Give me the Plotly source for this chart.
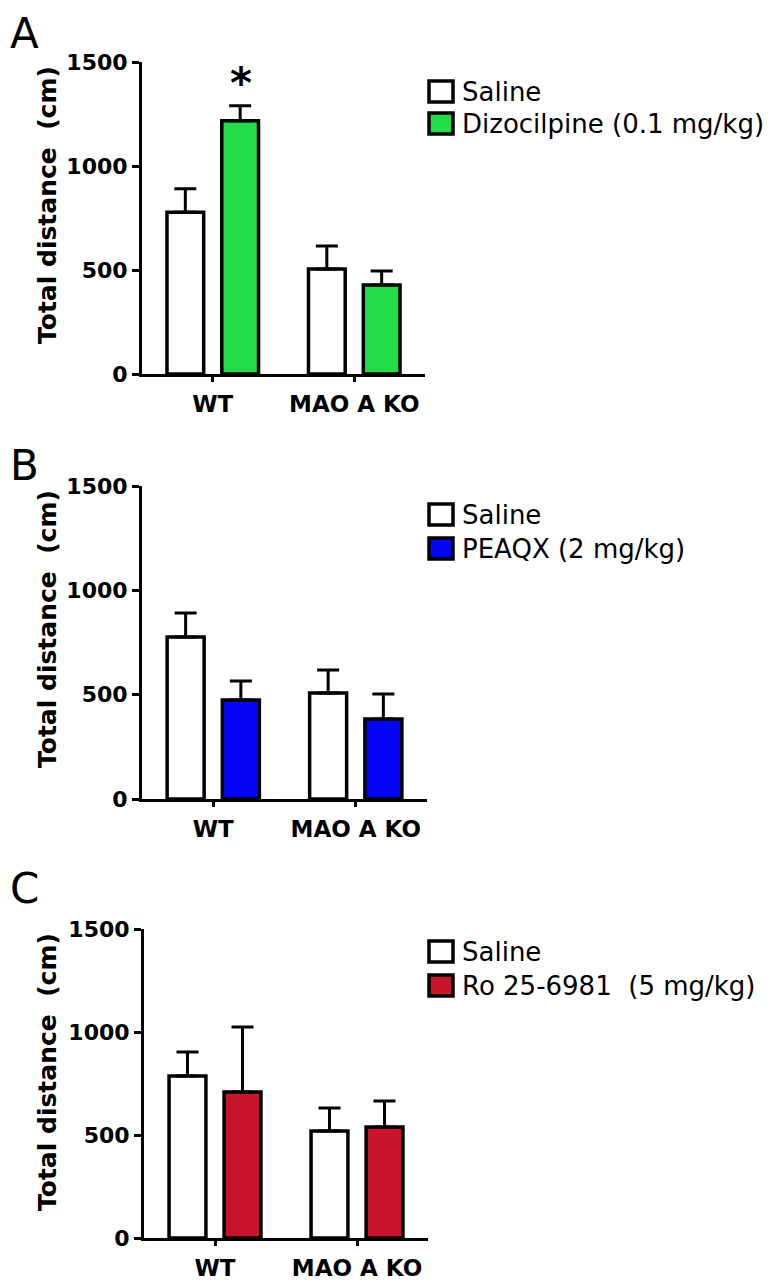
import plotly.graph_objects as go

W, H = 782, 1280
OFF = 8  # page body margin: figure is drawn 8px in from the window corner

categories = ["WT", "MAO A KO"]
y_ticks = [0, 500, 1000, 1500]
panel_letters = ["A", "B", "C"]
axis_title = "Total distance\u00a0 (cm)"

saline_label = "Saline"
drug_labels = ["Dizocilpine (0.1 mg/kg)", "PEAQX (2 mg/kg)", "Ro 25-6981\u00a0 (5 mg/kg)"]
drug_colors = ["#22DC4A", "#0505F5", "#C8142C"]

saline_means = [[778, 505], [776, 508], [786, 519]]
saline_errs = [[113, 110], [115, 110], [117, 112]]
drug_means = [[1218, 428], [474, 383], [709, 539]]
drug_errs = [[72, 67], [91, 120], [315, 126]]

# significance marker: (panel, category, series)
star_marks = [(0, "WT", "drug")]

# layout geometry in window pixels
x_dom_px = [(142, 425), (142, 427), (144, 428)]
y_dom_px = [(62, 374), (486, 799), (929, 1238)]
letter_y_px = [34, 465, 888]
title_y_px = [205, 629, 1072]
legend_rows_px = [(91, 123), (514, 548), (951, 985)]

BOLD = "DejaVu Sans"


def px(x):
    return (x - OFF) / W


def py(y):
    return 1 - (y - OFF) / H


fig = go.Figure()

for i in range(3):
    sfx = "" if i == 0 else str(i + 1)
    xa, ya = "x" + sfx, "y" + sfx
    fig.add_trace(go.Bar(
        x=categories, y=saline_means[i], xaxis=xa, yaxis=ya,
        marker=dict(color="white", line=dict(color="black", width=3.5)),
        error_y=dict(type="data", array=saline_errs[i], arrayminus=[0, 0], symmetric=False,
                     color="black", thickness=3, width=11),
        showlegend=False, name=saline_label,
    ))
    fig.add_trace(go.Bar(
        x=categories, y=drug_means[i], xaxis=xa, yaxis=ya,
        marker=dict(color=drug_colors[i], line=dict(color="black", width=3.5)),
        error_y=dict(type="data", array=drug_errs[i], arrayminus=[0, 0], symmetric=False,
                     color="black", thickness=3, width=11),
        showlegend=False, name=drug_labels[i],
    ))

    x0, x1 = x_dom_px[i]
    yt, yb = y_dom_px[i]
    fig.update_layout(**{
        "xaxis" + sfx: dict(
            domain=[px(x0), px(x1)], anchor=ya, type="category", range=[-0.5, 1.5],
            showline=True, linewidth=3, linecolor="black", showgrid=False, zeroline=False,
            ticks="outside", ticklen=5, tickwidth=3, tickcolor="black",
            tickfont=dict(family=BOLD, size=23, color="black", weight="bold"),
            ticklabelstandoff=2, automargin=False,
        ),
        "yaxis" + sfx: dict(
            domain=[py(yb), py(yt)], anchor=xa, range=[0, 1500],
            tickvals=y_ticks, showline=True, linewidth=3, linecolor="black",
            showgrid=False, zeroline=False,
            ticks="outside", ticklen=7, tickwidth=3, tickcolor="black",
            tickfont=dict(family=BOLD, size=22, color="black", weight="bold"),
            automargin=False,
        ),
    })

    # y-axis title
    fig.add_annotation(text=axis_title, xref="paper", yref="paper",
                       x=px(47), y=py(title_y_px[i]), xanchor="center", yanchor="middle",
                       textangle=-90, showarrow=False,
                       font=dict(family=BOLD, size=25, color="black", weight="bold"))

    # panel letter
    fig.add_annotation(text=panel_letters[i], xref="paper", yref="paper",
                       x=px(OFF), y=py(letter_y_px[i]), xanchor="left", yanchor="middle",
                       showarrow=False, font=dict(family="DejaVu Sans", size=42, color="black"))

    # legend
    labels = [saline_label, drug_labels[i]]
    fills = ["white", drug_colors[i]]
    for r in range(2):
        cy = legend_rows_px[i][r]
        fig.add_shape(type="rect", xref="paper", yref="paper",
                      x0=px(429), x1=px(453), y0=py(cy + 11), y1=py(cy - 10),
                      line=dict(color="black", width=3.5), fillcolor=fills[r])
        fig.add_annotation(text=labels[r], xref="paper", yref="paper",
                           x=px(460), y=py(cy + 1), xanchor="left", yanchor="middle",
                           showarrow=False, font=dict(family="DejaVu Sans", size=26, color="black"))

for (p, cat, ser) in star_marks:
    sfx = "" if p == 0 else str(p + 1)
    idx = categories.index(cat)
    top = (drug_means[p][idx] + drug_errs[p][idx]) if ser == "drug" else (saline_means[p][idx] + saline_errs[p][idx])
    fig.add_annotation(text="*", xref="x" + sfx, yref="y" + sfx, x=cat, y=top,
                       xshift=28, yshift=22, yanchor="middle", showarrow=False,
                       font=dict(family=BOLD, size=42, color="black", weight="bold"))

fig.update_layout(
    width=W, height=H, margin=dict(l=0, r=0, t=0, b=0, autoexpand=False),
    paper_bgcolor="white", plot_bgcolor="white",
    barmode="group", bargap=0.225, bargroupgap=0.33,
    showlegend=False,
)

fig.write_html("out.html")
